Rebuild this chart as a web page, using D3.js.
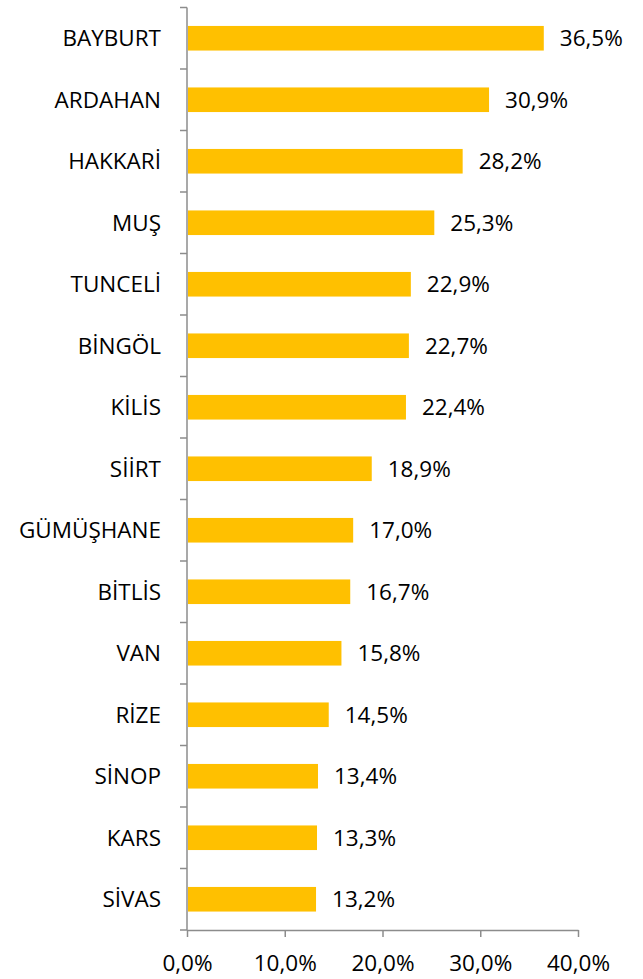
<!DOCTYPE html>
<html>
<head>
<meta charset="utf-8">
<script src="https://cdn.jsdelivr.net/npm/d3@7"></script>
<style>
  body { margin: 0; background: #fff; }
  text { font-family: "Open Sans", sans-serif; fill: #000; }
</style>
</head>
<body>
<svg id="chart" width="643" height="979"></svg>
<script>
var provinces = ["BAYBURT", "ARDAHAN", "HAKKARİ", "MUŞ", "TUNCELİ", "BİNGÖL", "KİLİS", "SİİRT",
  "GÜMÜŞHANE", "BİTLİS", "VAN", "RİZE", "SİNOP", "KARS", "SİVAS"];
var shares = [36.5, 30.9, 28.2, 25.3, 22.9, 22.7, 22.4, 18.9, 17.0, 16.7, 15.8, 14.5, 13.4, 13.3, 13.2];
var xTicks = [0, 10, 20, 30, 40];

var fmt = function (v) { return v.toFixed(1).replace('.', ',') + '%'; };

(function drawChart() {
  var svg = d3.select("#chart"),
    left = 187, right = 578, top = 7.5, bottom = 930,
    axisColor = "#8c8c8c",
    fontSize = 22.5;

  var xScale = d3.scaleLinear().domain([0, 40]).range([left, right]),
    yScale = d3.scaleBand().domain(provinces).range([top, bottom])
      .paddingInner(0.6).paddingOuter(0.3);

  var data = provinces.map(function (p, i) { return { name: p, value: shares[i] }; });

  // bars
  svg.selectAll('.bar')
    .data(data)
    .enter().append('rect')
    .attr('class', 'bar')
    .attr('x', xScale(0) + 1)
    .attr('y', function (d) { return yScale(d.name); })
    .attr('width', function (d) { return xScale(d.value) - xScale(0) - 1; })
    .attr('height', yScale.bandwidth())
    .attr('fill', '#ffc000');

  // value labels
  svg.selectAll('.value')
    .data(data)
    .enter().append('text')
    .attr('class', 'value')
    .attr('x', function (d) { return xScale(d.value) + 16; })
    .attr('y', function (d) { return yScale(d.name) + yScale.bandwidth() / 2; })
    .attr('dy', '0.36em')
    .attr('font-size', fontSize)
    .text(function (d) { return fmt(d.value); });

  // category labels
  svg.selectAll('.name')
    .data(data)
    .enter().append('text')
    .attr('class', 'name')
    .attr('text-anchor', 'end')
    .attr('x', 161)
    .attr('y', function (d) { return yScale(d.name) + yScale.bandwidth() / 2; })
    .attr('dy', '0.36em')
    .attr('font-size', fontSize)
    .text(function (d) { return d.name; });

  // y axis line and ticks between categories
  var step = yScale.step();
  var yTickPos = d3.range(provinces.length + 1).map(function (i) { return top + i * step; });
  svg.append('line')
    .attr('x1', left).attr('x2', left)
    .attr('y1', top).attr('y2', bottom)
    .attr('stroke', axisColor).attr('stroke-width', 1.5);
  svg.selectAll('.ytick')
    .data(yTickPos)
    .enter().append('line')
    .attr('class', 'ytick')
    .attr('x1', left - 7).attr('x2', left)
    .attr('y1', function (d) { return d; }).attr('y2', function (d) { return d; })
    .attr('stroke', axisColor).attr('stroke-width', 1.5);

  // x axis
  var xAxis = d3.axisBottom(xScale)
    .tickValues(xTicks)
    .tickSizeInner(7)
    .tickSizeOuter(0)
    .tickPadding(18)
    .tickFormat(function (v) { return fmt(v); });

  var gx = svg.append('g')
    .attr('transform', 'translate(0,' + bottom + ')')
    .call(xAxis);
  gx.select('.domain').attr('stroke', axisColor).attr('stroke-width', 1.5);
  gx.selectAll('.tick line').attr('stroke', axisColor).attr('stroke-width', 1.5);
  gx.selectAll('.tick text')
    .attr('font-family', '"Open Sans", sans-serif')
    .attr('font-size', fontSize)
    .attr('fill', '#000');
})();
</script>
</body>
</html>
